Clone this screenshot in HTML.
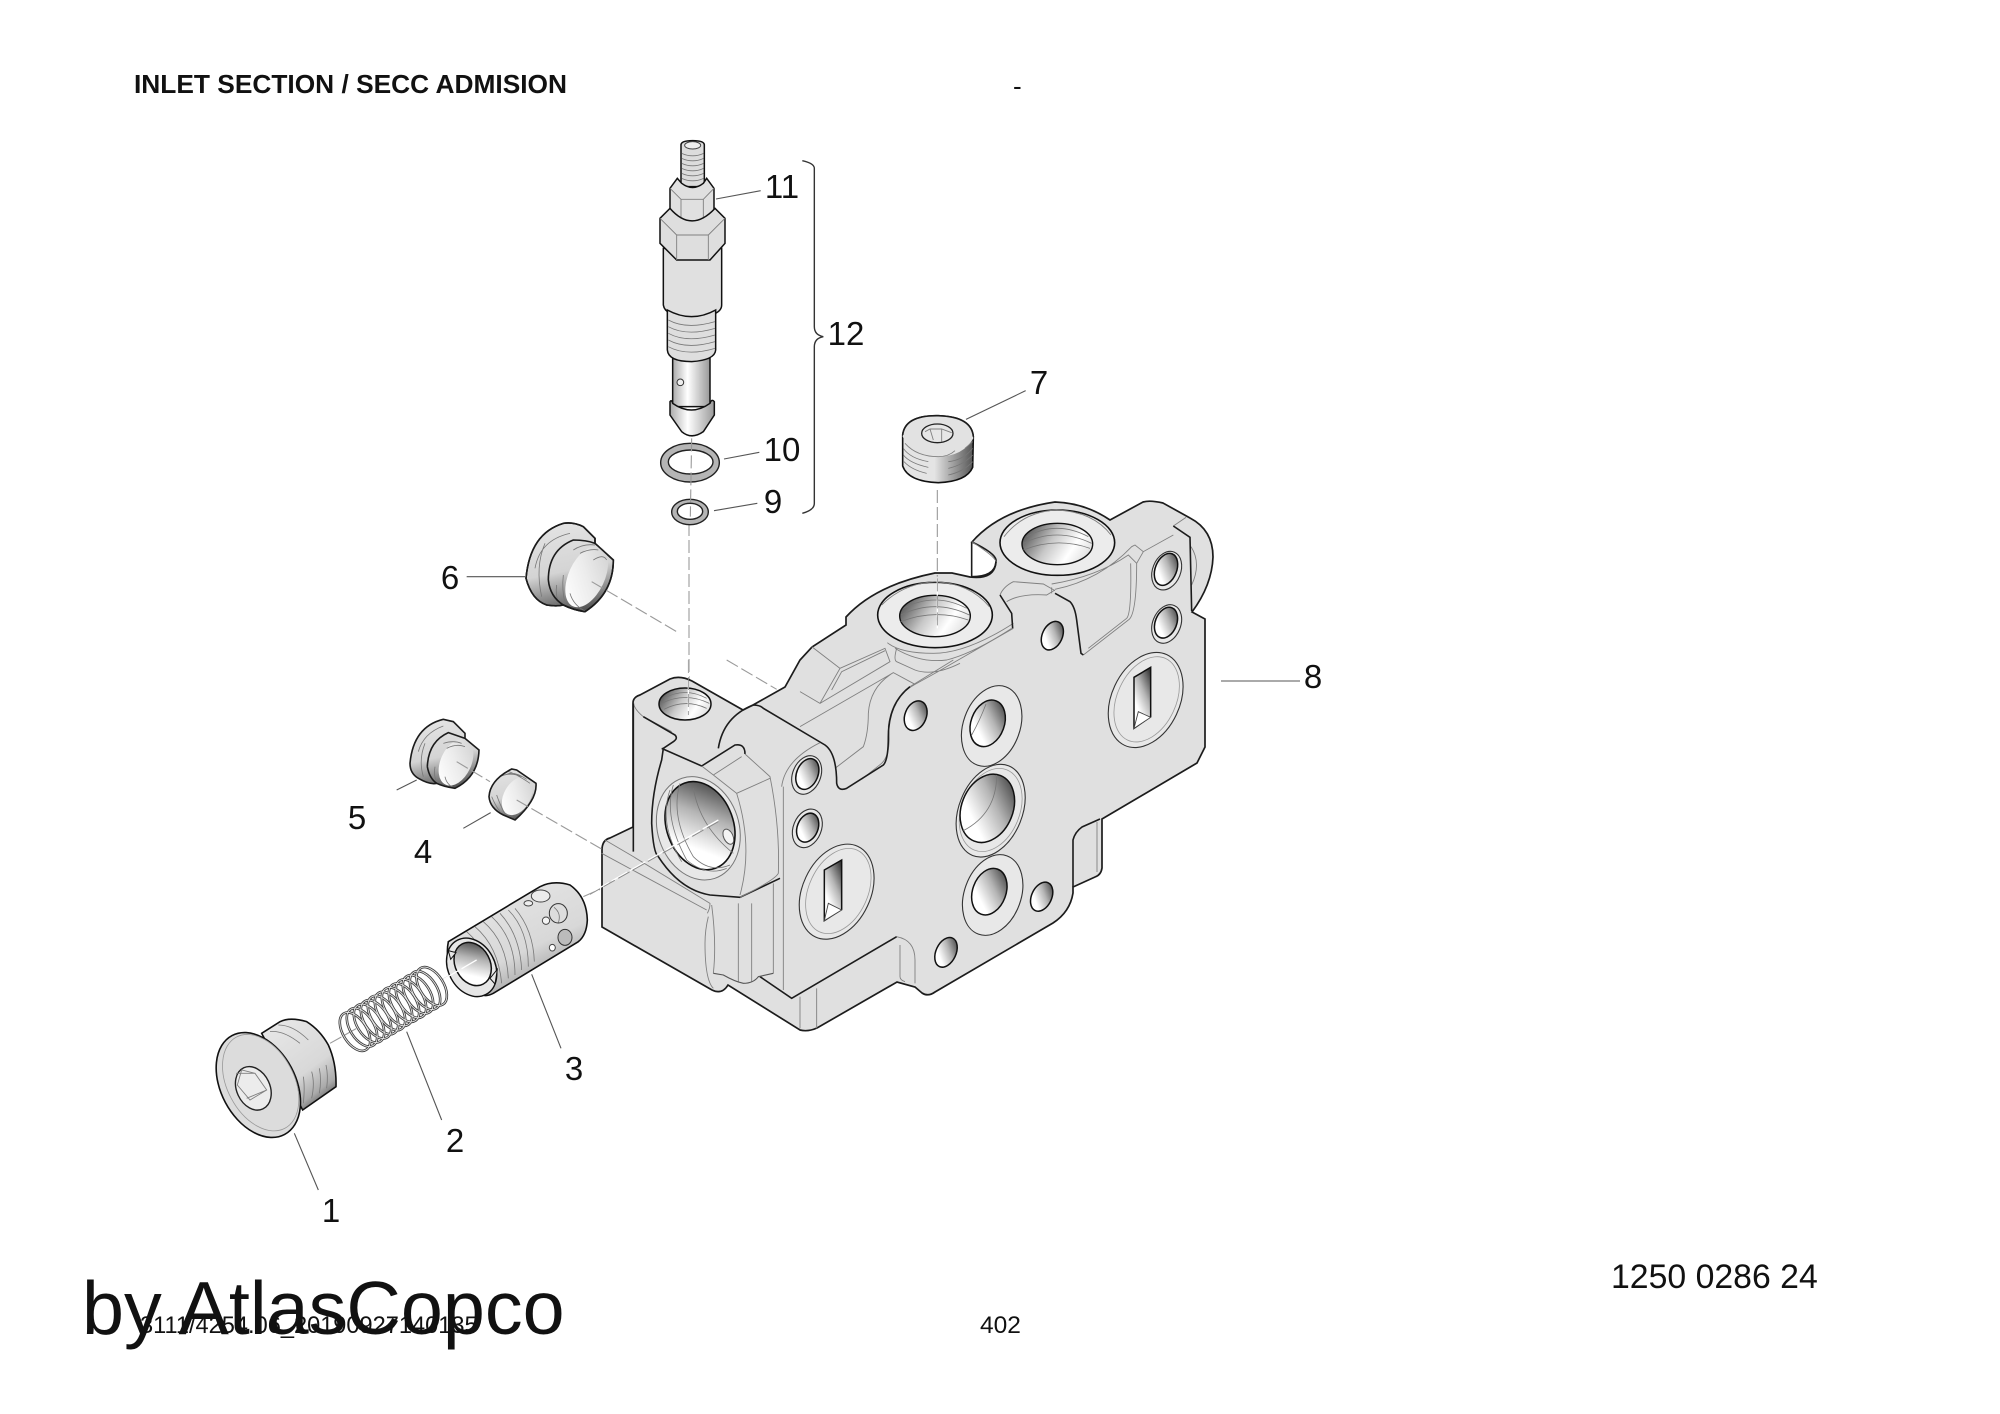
<!DOCTYPE html>
<html><head><meta charset="utf-8"><style>
html,body{margin:0;padding:0;background:#fff}
svg{display:block}
svg *{vector-effect:non-scaling-stroke}
text{font-family:"Liberation Sans",sans-serif;fill:#111;stroke:none}
.n{font-size:33px;text-anchor:middle}
.d{fill:none;stroke:#1c1c1c;stroke-width:1.6}
.l{fill:none;stroke:#808080;stroke-width:.9}
.ld{fill:none;stroke:#555;stroke-width:1.1}
.da{fill:none;stroke:#9a9a9a;stroke-width:1.1;stroke-dasharray:13 4}
.dw{fill:none;stroke:#fff;stroke-width:1.3;stroke-dasharray:18 3}
.r{fill:#e8e8e8;stroke:#333;stroke-width:1.1}
.r2{fill:none;stroke:#999;stroke-width:.8}
.i{fill:url(#fp);stroke:#111;stroke-width:1.5}
.t{fill:none;stroke:#777;stroke-width:.8}
</style></head><body>
<svg width="2000" height="1414" viewBox="0 0 2000 1414" xmlns="http://www.w3.org/2000/svg">
<defs>
<linearGradient id="fp" x1=".85" y1="0" x2=".2" y2="1"><stop offset="0" stop-color="#3a3a3a"/><stop offset=".4" stop-color="#b5b5b5"/><stop offset=".75" stop-color="#fff"/></linearGradient>
<linearGradient id="tb" x1="0" y1=".3" x2="1" y2=".7"><stop offset="0" stop-color="#555"/><stop offset=".4" stop-color="#c8c8c8"/><stop offset=".72" stop-color="#fff"/><stop offset="1" stop-color="#ddd"/></linearGradient>
<linearGradient id="cy3" x1=".15" y1="0" x2=".75" y2="1"><stop offset="0" stop-color="#e8e8e8"/><stop offset=".62" stop-color="#d8d8d8"/><stop offset=".85" stop-color="#aaa"/><stop offset="1" stop-color="#555"/></linearGradient>
<linearGradient id="pl" x1=".3" y1="0" x2=".5" y2="1"><stop offset="0" stop-color="#e4e4e4"/><stop offset=".55" stop-color="#d4d4d4"/><stop offset="1" stop-color="#555"/></linearGradient>
<linearGradient id="cap" x1=".8" y1="0" x2=".2" y2="1"><stop offset="0" stop-color="#d2d2d2"/><stop offset=".5" stop-color="#ececec"/><stop offset="1" stop-color="#fff"/></linearGradient>
<linearGradient id="hz" x1="0" y1="0" x2="1" y2="0"><stop offset="0" stop-color="#aaa"/><stop offset=".4" stop-color="#fff"/><stop offset="1" stop-color="#999"/></linearGradient>
<linearGradient id="p7" x1="0" y1="0" x2="1" y2="0"><stop offset="0" stop-color="#e4e4e4"/><stop offset=".45" stop-color="#e4e4e4"/><stop offset="1" stop-color="#555"/></linearGradient>
</defs>

<text x="134" y="93" font-size="26" font-weight="bold" textLength="433" lengthAdjust="spacingAndGlyphs">INLET SECTION / SECC ADMISION</text>
<text x="1013" y="95" font-size="26">-</text>

<!-- dashes behind the body -->
<path class="da" d="M689,523 L689,695"/>

<!-- BODY silhouette, real coordinates -->
<path d="M633,703 Q633,697 640,695 L670,679 Q680,675 692,681 L743,710 L753,705 L785,687 L800,660 L812,647 L846,625 L846,617 Q875,585 935,573 L952,573 L970,577 Q996,580 996,560 Q995,553 972,542 Q1000,510 1055,502 Q1085,503 1110,520 L1143,502 Q1150,500 1163,503 L1190,518 Q1213,530 1213,557 Q1212,585 1192,612 L1205,619 L1205,747 L1197,763 L1102,819 L1102,868 Q1101,875 1095,877 L1073,887 L1073,893 Q1070,912 1053,923 L935,992 Q928,997 922,993 L915,987 L897,982 L817,1028 Q808,1032 800,1030 L728,985 Q722,995 712,990 L602,927 L602,850 Q602,840 610,838 L633,827 Z" fill="#e0e0e0" stroke="#1c1c1c" stroke-width="1.7"/>
<path class="d" d="M1073,887 L1073,840 Q1075,832 1082,827 L1100,819"/>
<path class="l" d="M1097,822 L1097,872"/>

<!-- Z5 channel lines -->
<g transform="translate(800 620) scale(.33333)">
<path class="l" d="M35,80 L120,145 L60,250 L0,215 M60,250 L270,125 L255,85 L120,145 M95,210 L125,155 L255,92 M290,85 Q280,120 290,125 L345,150 Q400,170 480,130 M262,68 Q300,100 400,100 Q500,100 640,10 M285,85 Q360,130 440,120 Q520,100 635,25 M410,157 L640,25 M0,320 L280,158 L345,193 L410,157 M280,158 Q210,200 205,280 Q205,340 190,380 L105,445 M345,193 Q275,230 265,320 Q275,400 245,430 L185,478"/>
</g>

<!-- Z1 upper right -->
<g transform="translate(880 380) scale(.33333)">
<path class="d" d="M275,485 L275,590"/>
<path class="l" d="M275,485 Q345,530 348,545"/>
<path class="d" d="M348,545 Q345,590 275,590"/>
<path class="l" d="M360,645 Q370,620 400,605 L490,612 L525,632 M380,665 Q420,640 500,645 L525,630 M515,622 L515,640 M625,805 L740,715 Q755,700 752,550 M610,825 L745,720 Q770,705 770,550 L790,515 L880,465 M525,628 Q660,600 755,500 L765,495 L790,515 M515,612 Q650,590 745,525 L770,550 M880,438 L918,412 M933,500 Q965,550 935,615"/>
<path class="d" d="M525,640 L570,665 Q585,680 590,720 L603,820 L610,825 M360,645 L395,700 L398,745 M880,438 L930,472 L935,693"/>
<ellipse cx="532" cy="488" rx="172" ry="98" fill="#ececec" stroke="#111" stroke-width="1.6"/>
<path class="l" d="M372,470 Q430,395 530,390 Q640,395 693,465"/>
<ellipse cx="532" cy="492" rx="106" ry="62" fill="url(#tb)" stroke="#111" stroke-width="1.4"/>
<path class="t" d="M440,470 Q530,420 625,470 M430,490 Q530,440 635,490 M430,510 Q530,470 630,505"/>
<ellipse cx="165" cy="705" rx="172" ry="98" fill="#ececec" stroke="#111" stroke-width="1.6"/>
<path class="l" d="M5,675 Q70,610 165,605 Q270,610 328,680"/>
<ellipse cx="165" cy="708" rx="106" ry="62" fill="url(#tb)" stroke="#111" stroke-width="1.4"/>
<path class="t" d="M70,685 Q165,635 260,685 M62,705 Q165,655 268,705 M62,725 Q165,685 265,720"/>
<ellipse cx="517" cy="767" rx="30" ry="45" transform="rotate(25 517 767)" class="i"/>
<ellipse cx="860" cy="572" rx="42" ry="60" transform="rotate(22 860 572)" class="r"/>
<ellipse cx="858" cy="568" rx="32" ry="50" transform="rotate(22 858 568)" class="i"/>
<ellipse cx="860" cy="732" rx="42" ry="60" transform="rotate(22 860 732)" class="r"/>
<ellipse cx="858" cy="728" rx="32" ry="48" transform="rotate(22 858 728)" class="i"/>
<!-- slot port -->
<ellipse cx="797" cy="960" rx="102" ry="150" transform="rotate(25 797 960)" class="r"/>
<ellipse cx="800" cy="958" rx="88" ry="135" transform="rotate(25 800 958)" class="r2"/>
<path d="M762,892 L812,862 L812,1010 L762,1045 Z" class="i"/>
<path d="M775,995 L812,1012 L762,1045 Z" fill="#fff" stroke="#444" stroke-width=".9"/>
<!-- plug 7 -->
<path d="M172,330 L172,590" class="da"/>
<path d="M172,595 L172,745" class="dw"/>
<path d="M172,595 L172,745" class="da" style="stroke:#888;stroke-width:.8"/>
<path d="M68,165 Q75,105 175,107 Q275,110 280,170 L278,262 Q260,305 175,308 Q85,305 68,258 Z" fill="url(#p7)" stroke="#111" stroke-width="1.6"/>
<path d="M68,170 Q95,228 175,230 Q250,228 280,175 Q275,110 175,107 Q75,105 68,170 Z" fill="#e2e2e2"/>
<path d="M68,165 Q75,105 175,107 Q275,110 280,170" class="d"/>
<path class="l" d="M75,190 Q110,230 175,230 Q205,230 225,212 M255,205 L278,185"/>
<path class="t" d="M70,205 Q90,235 145,245 M70,225 Q90,250 145,262 M72,245 Q95,270 140,280 M205,245 Q250,240 278,205 M205,265 Q250,255 278,225 M205,285 Q250,275 278,245"/>
<ellipse cx="172" cy="160" rx="47" ry="28" fill="#e6e6e6" stroke="#222" stroke-width="1.3"/>
<path class="l" d="M135,155 L150,147 L185,147 L215,158 M150,147 L160,180 M185,147 L185,185"/>
<path class="ld" d="M258,118 L437,32"/>
</g>
<path class="ld" d="M1221,681 L1300,681"/>

<!-- Z6 lower right -->
<g transform="translate(900 680) scale(.33333)">
<ellipse cx="275" cy="138" rx="85" ry="125" transform="rotate(20 275 138)" class="r"/>
<ellipse cx="263" cy="130" rx="50" ry="72" transform="rotate(20 263 130)" class="i"/>
<path class="t" d="M258,72 Q240,120 215,165"/>
<ellipse cx="272" cy="392" rx="95" ry="145" transform="rotate(22 272 392)" class="r"/>
<ellipse cx="272" cy="390" rx="87" ry="130" transform="rotate(22 272 390)" class="r2"/>
<ellipse cx="262" cy="385" rx="77" ry="106" transform="rotate(22 262 385)" class="i"/>
<path class="t" d="M290,285 Q290,400 190,452"/>
<ellipse cx="278" cy="645" rx="85" ry="125" transform="rotate(20 278 645)" class="r"/>
<ellipse cx="268" cy="635" rx="50" ry="72" transform="rotate(20 268 635)" class="i"/>
<ellipse cx="425" cy="650" rx="30" ry="46" transform="rotate(25 425 650)" class="i"/>
<ellipse cx="138" cy="817" rx="30" ry="47" transform="rotate(25 138 817)" class="i"/>
</g>

<!-- Z2 lower left -->
<g transform="translate(590 660) scale(.33333)">
<path class="l" d="M45,540 L130,590 L360,730 Q360,745 352,760 M35,580 L350,750 M130,130 Q135,150 160,170 L245,215"/>
<path class="d" d="M130,130 L130,575 M160,170 L255,225 Q265,235 250,245 L220,265 L215,300 Q185,400 185,490 Q190,580 205,590 Q270,690 360,705 L450,712 L570,655"/>
<path class="d" d="M385,265 Q400,170 490,135 Q510,135 520,145 L705,255 Q740,280 740,370 Q745,395 770,385 L880,315 Q895,300 895,230 Q895,130 960,80"/>
<path class="l" d="M960,80 L1090,0"/>
<path class="d" d="M215,265 L335,318 L435,255 Q465,250 465,282"/>
<path class="l" d="M465,282 L540,350 Q570,500 565,640 Q555,660 450,712 M370,345 L455,290 M370,345 L440,400 L540,355 M440,400 Q490,560 450,705 M335,318 L370,345"/>
<!-- left bore -->
<ellipse cx="285" cy="132" rx="78" ry="48" fill="url(#tb)" stroke="#111" stroke-width="1.5"/>
<path class="t" d="M222,115 Q285,80 350,115 M215,130 Q285,95 358,130 M222,148 Q285,115 350,145"/>
<!-- port -->
<ellipse cx="325" cy="505" rx="122" ry="158" transform="rotate(-18 325 505)" fill="#e8e8e8" stroke="#777" stroke-width="1"/>
<ellipse cx="330" cy="497" rx="100" ry="136" transform="rotate(-20 330 497)" fill="url(#fp)" stroke="#111" stroke-width="1.6"/>
<path class="t" d="M250,375 Q220,470 290,600 Q350,650 410,625 M270,370 Q240,470 310,590 Q360,640 420,615 M310,385 Q330,500 430,580 M240,390 Q205,490 275,605"/>
<ellipse cx="415" cy="530" rx="14" ry="24" transform="rotate(-25 415 530)" fill="#f4f4f4" stroke="#555" stroke-width="1"/>
<!-- lower front -->
<path class="d" d="M510,950 L605,1015 L920,830"/>
<path class="l" d="M920,830 Q975,840 975,900 L975,970 M930,855 L930,950 Q930,960 945,965 M630,1010 L630,1105 M680,985 L680,1105 M365,735 Q380,850 370,940 M345,850 Q345,960 370,985 M355,770 Q345,810 345,850 M445,730 L445,965 M485,730 L485,965 M550,670 L550,940 M580,380 L580,990 M575,380 Q585,300 690,248"/>
<path class="ld" d="M370,940 L400,945 Q435,965 460,970 Q490,970 505,950 L550,940"/>
<!-- holes -->
<ellipse cx="650" cy="345" rx="42" ry="60" transform="rotate(22 650 345)" class="r"/>
<ellipse cx="652" cy="342" rx="32" ry="48" transform="rotate(22 652 342)" class="i"/>
<ellipse cx="652" cy="505" rx="42" ry="60" transform="rotate(22 652 505)" class="r"/>
<ellipse cx="653" cy="503" rx="31" ry="45" transform="rotate(22 653 503)" class="i"/>
<ellipse cx="977" cy="167" rx="32" ry="46" transform="rotate(22 977 167)" class="i"/>
<ellipse cx="740" cy="695" rx="102" ry="150" transform="rotate(25 740 695)" class="r"/>
<ellipse cx="745" cy="693" rx="88" ry="135" transform="rotate(25 745 693)" class="r2"/>
<path d="M703,630 L755,600 L755,748 L703,782 Z" class="i"/>
<path d="M715,730 L755,750 L703,782 Z" fill="#fff" stroke="#444" stroke-width=".9"/>
<!-- dashes over the body -->
<path class="dw" d="M295,0 L295,165"/>
<path class="da" style="stroke:#888;stroke-width:.8" d="M295,0 L295,165"/>
<path class="da" d="M410,0 L560,88"/>
<path class="dw" d="M385,480 L0,700"/>
<path class="da" style="stroke:#888;stroke-width:.9" d="M385,485 L0,703"/>
</g>

<!-- Z3 plug 1, spring, sleeve -->
<g transform="translate(200 880) scale(.33333)">
<path class="da" d="M390,490 L470,445 M725,300 L830,240 M1150,50 L1200,28"/>
<!-- sleeve -->
<path d="M745,185 L1020,20 Q1060,0 1110,15 Q1160,50 1162,120 Q1160,165 1135,185 L880,340 Q860,350 850,345 Q790,340 760,290 Q735,235 745,185 Z" fill="url(#cy3)" stroke="#111" stroke-width="1.6"/>
<path class="t" d="M800,155 Q870,215 880,325 M825,140 Q895,200 905,310 M850,125 Q920,185 925,295 M875,110 Q945,175 945,285 M900,100 Q960,165 965,270 M925,90 Q985,150 985,260 M945,85 Q1000,150 1003,245"/>
<ellipse cx="1022" cy="48" rx="28" ry="18" fill="#ececec" stroke="#444" stroke-width="1"/>
<ellipse cx="1075" cy="100" rx="27" ry="29" fill="#ddd" stroke="#333" stroke-width="1"/>
<path class="t" d="M1062,82 Q1085,100 1075,128"/>
<ellipse cx="1095" cy="172" rx="21" ry="24" fill="#bbb" stroke="#333" stroke-width="1"/>
<ellipse cx="985" cy="70" rx="13" ry="8" fill="#eee" stroke="#444" stroke-width="1"/>
<ellipse cx="1038" cy="122" rx="11" ry="11" fill="#f4f4f4" stroke="#444" stroke-width="1"/>
<ellipse cx="1057" cy="203" rx="9" ry="10" fill="#fff" stroke="#444" stroke-width="1"/>
<ellipse cx="815" cy="262" rx="70" ry="92" transform="rotate(-28 815 262)" fill="#e6e6e6" stroke="#111" stroke-width="1.4"/>
<ellipse cx="818" cy="252" rx="52" ry="68" transform="rotate(-28 818 252)" fill="url(#fp)" stroke="#111" stroke-width="1.5"/>
<path d="M745,212 L768,218 L752,238 Z M870,295 L892,268 L885,312 Z" fill="#e6e6e6" stroke="#111" stroke-width="1"/>
<path class="dw" d="M730,298 L830,240"/>
<!-- spring -->
<g fill="none" stroke="#3c3c3c" stroke-width="2.6">
<ellipse cx="465" cy="455" rx="36" ry="64" transform="rotate(-32 465 455)"/>
<ellipse cx="486" cy="442" rx="36" ry="64" transform="rotate(-32 486 442)"/>
<ellipse cx="507" cy="430" rx="36" ry="64" transform="rotate(-32 507 430)"/>
<ellipse cx="528" cy="418" rx="36" ry="64" transform="rotate(-32 528 418)"/>
<ellipse cx="549" cy="405" rx="36" ry="64" transform="rotate(-32 549 405)"/>
<ellipse cx="570" cy="393" rx="36" ry="64" transform="rotate(-32 570 393)"/>
<ellipse cx="591" cy="380" rx="36" ry="64" transform="rotate(-32 591 380)"/>
<ellipse cx="612" cy="368" rx="36" ry="64" transform="rotate(-32 612 368)"/>
<ellipse cx="633" cy="356" rx="36" ry="64" transform="rotate(-32 633 356)"/>
<ellipse cx="654" cy="343" rx="36" ry="64" transform="rotate(-32 654 343)"/>
<ellipse cx="675" cy="331" rx="36" ry="64" transform="rotate(-32 675 331)"/>
<ellipse cx="695" cy="319" rx="36" ry="64" transform="rotate(-32 695 319)"/>
</g>
<g fill="none" stroke="#e8e8e8" stroke-width=".9">
<ellipse cx="465" cy="455" rx="36" ry="64" transform="rotate(-32 465 455)"/>
<ellipse cx="486" cy="442" rx="36" ry="64" transform="rotate(-32 486 442)"/>
<ellipse cx="507" cy="430" rx="36" ry="64" transform="rotate(-32 507 430)"/>
<ellipse cx="528" cy="418" rx="36" ry="64" transform="rotate(-32 528 418)"/>
<ellipse cx="549" cy="405" rx="36" ry="64" transform="rotate(-32 549 405)"/>
<ellipse cx="570" cy="393" rx="36" ry="64" transform="rotate(-32 570 393)"/>
<ellipse cx="591" cy="380" rx="36" ry="64" transform="rotate(-32 591 380)"/>
<ellipse cx="612" cy="368" rx="36" ry="64" transform="rotate(-32 612 368)"/>
<ellipse cx="633" cy="356" rx="36" ry="64" transform="rotate(-32 633 356)"/>
<ellipse cx="654" cy="343" rx="36" ry="64" transform="rotate(-32 654 343)"/>
<ellipse cx="675" cy="331" rx="36" ry="64" transform="rotate(-32 675 331)"/>
<ellipse cx="695" cy="319" rx="36" ry="64" transform="rotate(-32 695 319)"/>
</g>
<!-- plug 1 -->
<path d="M185,460 L240,425 Q270,410 320,425 Q360,450 385,495 Q410,550 408,620 L308,690 Z" fill="url(#cy3)" stroke="#111" stroke-width="1.6"/>
<path class="t" d="M210,455 Q250,450 300,490 M235,435 Q280,435 325,480 M310,590 Q315,620 310,670 M335,575 Q345,610 335,655 M358,565 Q365,600 358,640 M378,555 Q385,585 380,625"/>
<ellipse cx="175" cy="615" rx="112" ry="168" transform="rotate(-28 175 615)" fill="#dcdcdc" stroke="#111" stroke-width="1.6"/>
<ellipse cx="182" cy="608" rx="100" ry="155" transform="rotate(-28 182 608)" fill="none" stroke="#999" stroke-width=".8"/>
<ellipse cx="160" cy="625" rx="50" ry="68" transform="rotate(-25 160 625)" fill="#ececec" stroke="#222" stroke-width="1.4"/>
<path class="l" d="M125,570 L165,580 L200,630 L150,660 L112,615 Z M165,580 L108,580 M200,630 L140,655"/>
<path class="ld" d="M283,760 L355,930 M620,455 L725,720 M995,283 L1083,505"/>
</g>

<!-- Z4 plugs 6,5,4 -->
<g transform="translate(400 510) scale(.33333)">
<!-- 6 -->
<path d="M378,205 Q390,70 490,40 Q520,35 550,50 L585,85 L585,100 L640,150 Q640,250 555,305 Q520,300 490,285 Q470,290 440,285 Q395,270 378,205 Z" fill="url(#pl)" stroke="#111" stroke-width="1.6"/>
<ellipse cx="560" cy="200" rx="54" ry="98" transform="rotate(25 560 200)" fill="url(#cap)"/>
<path class="t" d="M405,175 Q420,90 510,70 M435,100 Q405,170 425,260 M470,225 Q465,255 478,285 M490,195 Q485,240 495,280 M520,120 Q550,100 585,105 M540,130 Q570,115 595,120 M580,150 Q610,130 620,150 M510,250 Q520,285 555,303"/>
<path class="d" d="M445,210 Q445,120 520,90 Q560,90 585,100 M445,210 Q450,260 490,285"/>
<path class="d" d="M378,205 Q390,70 490,40 Q520,35 550,50 L585,85 L585,100 L640,150 Q640,250 555,305 Q520,300 490,285 Q470,290 440,285 Q395,270 378,205 Z"/>
<!-- 5 -->
<path d="M30,760 Q40,650 130,628 L160,635 L195,670 L195,685 L237,720 Q235,800 165,835 Q130,830 110,820 Q90,825 55,805 Q30,790 30,760 Z" fill="url(#pl)"/>
<ellipse cx="168" cy="757" rx="46" ry="74" transform="rotate(25 168 757)" fill="url(#cap)"/>
<path class="t" d="M55,725 Q70,670 130,648 M75,700 Q55,750 70,800 M105,770 Q100,800 112,820 M130,700 Q160,690 185,700 M140,715 Q170,700 195,710 M135,800 Q140,825 165,835"/>
<path class="d" d="M82,770 Q85,695 145,668 L195,685 M82,770 Q88,805 110,820"/>
<path class="d" d="M30,760 Q40,650 130,628 L160,635 L195,670 L195,685 L237,720 Q235,800 165,835 Q130,830 110,820 Q90,825 55,805 Q30,790 30,760 Z"/>
<!-- 4 -->
<path d="M267,860 Q270,810 335,777 L350,780 L408,820 Q412,870 345,930 L310,915 Q270,895 267,860 Z" fill="url(#pl)"/>
<ellipse cx="352" cy="858" rx="40" ry="62" transform="rotate(30 352 858)" fill="url(#cap)"/>
<path class="t" d="M300,800 Q330,785 365,800 M315,795 Q340,780 380,808 M275,860 Q285,885 300,905 M290,855 Q300,885 318,918 M325,785 Q345,790 390,820"/>
<path class="d" d="M267,860 Q270,810 335,777 L350,780 L408,820 Q412,870 345,930 L310,915 Q270,895 267,860 Z"/>
<path class="da" d="M575,215 L835,368 M170,755 L270,815 M350,870 L610,1020"/>
<path class="ld" d="M200,200 L375,200 M-10,840 L50,810 M190,955 L272,908"/>
</g>

<!-- INJECTOR: zoom 3 coords -->
<g transform="translate(420 120) scale(.33333)">
<path d="M783,75 Q783,62 818,62 Q853,62 853,75 L853,200 L783,200 Z" fill="#dcdcdc" stroke="#111" stroke-width="1.5"/>
<ellipse cx="818" cy="76" rx="24" ry="11" fill="#eee" stroke="#444" stroke-width="1"/>
<path class="t" d="M785,100 Q818,115 851,100 M785,115 Q818,130 851,115 M785,130 Q818,145 851,130 M785,145 Q818,160 851,145 M785,160 Q818,175 851,160 M785,175 Q818,190 851,175"/>
<path d="M750,205 L772,175 L785,190 Q818,215 850,190 L860,175 L882,205 L882,290 L855,318 L780,318 L750,290 Z" fill="#e0e0e0" stroke="#111" stroke-width="1.5"/>
<path class="l" d="M750,205 L783,238 L850,238 L882,205 M783,238 L783,318 M850,238 L850,318"/>
<path d="M730,385 L730,555 Q735,590 815,592 Q905,590 905,555 L905,385 Z" fill="#e0e0e0" stroke="#111" stroke-width="1.5"/>
<path d="M720,295 L750,265 Q815,340 885,265 L915,295 L915,370 L870,420 L770,420 L720,370 Z" fill="#dedede" stroke="#111" stroke-width="1.5"/>
<path class="l" d="M720,295 L770,345 L865,345 L915,295 M770,345 L770,420 M865,345 L865,420"/>
<path d="M758,715 L758,860 L870,860 L870,715 Z" fill="url(#hz)" stroke="#111" stroke-width="1.5"/>
<circle cx="781" cy="787" r="10" fill="#eee" stroke="#333" stroke-width="1"/>
<path d="M742,570 L742,690 Q745,725 815,725 Q885,720 887,690 L887,570 Q815,610 742,570 Z" fill="#dedede" stroke="#111" stroke-width="1.5"/>
<path class="t" d="M745,600 Q800,630 885,605 M745,620 Q800,650 885,625 M745,640 Q800,670 885,645 M745,660 Q800,690 885,665 M745,680 Q800,710 885,685"/>
<path d="M750,845 L750,885 L785,935 Q815,960 850,935 L883,885 L883,845 Q875,835 870,850 Q815,890 758,850 Q755,838 750,845 Z" fill="url(#hz)" stroke="#111" stroke-width="1.5"/>
<path fill-rule="evenodd" d="M722,1028 a88,58 0 1,0 176,0 a88,58 0 1,0 -176,0 Z M745,1026 a67,36 0 1,0 134,0 a67,36 0 1,0 -134,0 Z" fill="#b5b5b5" stroke="#222" stroke-width="1.4"/>
<path fill-rule="evenodd" d="M755,1176 a55,38 0 1,0 110,0 a55,38 0 1,0 -110,0 Z M772,1174 a38,24 0 1,0 76,0 a38,24 0 1,0 -76,0 Z" fill="#b5b5b5" stroke="#222" stroke-width="1.4"/>
<path class="da" d="M815,955 L811,1190"/>
<path class="ld" d="M888,237 L1022,212 M912,1017 L1018,997 M882,1172 L1012,1150"/>
<path fill="none" stroke="#333" stroke-width="1.4" d="M1147,122 Q1183,130 1183,145 L1183,620 Q1183,645 1210,650 Q1183,655 1183,680 L1183,1150 Q1183,1170 1147,1180"/>
</g>

<text class="n" x="782" y="198">11</text>
<text class="n" x="846" y="345">12</text>
<text class="n" x="782" y="461">10</text>
<text class="n" x="773" y="513">9</text>
<text class="n" x="1039" y="394">7</text>
<text class="n" x="450" y="589">6</text>
<text class="n" x="1313" y="688">8</text>
<text class="n" x="357" y="829">5</text>
<text class="n" x="423" y="863">4</text>
<text class="n" x="574" y="1080">3</text>
<text class="n" x="455" y="1152">2</text>
<text class="n" x="331" y="1222">1</text>

<text x="1611" y="1288" font-size="33.8">1250 0286 24</text>
<text x="980" y="1333" font-size="24.5">402</text>
<text x="140" y="1333" font-size="23.6">3111/4254.06_20190927140135</text>
<text x="82" y="1334" font-size="75.5">by AtlasCopco</text>
</svg>
</body></html>
